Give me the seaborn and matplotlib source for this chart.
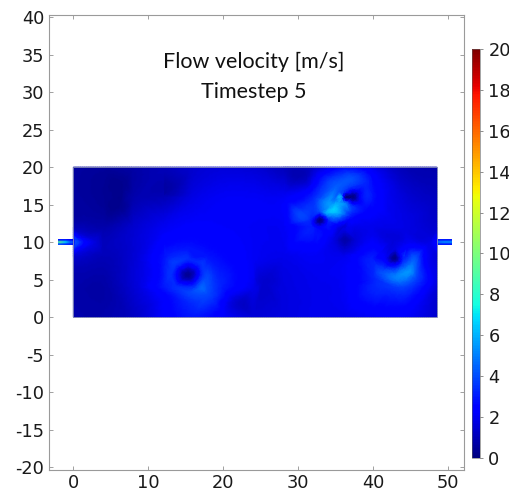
import numpy as np
import matplotlib
matplotlib.use("Agg")
import matplotlib.pyplot as plt
import matplotlib.tri as mtri
import seaborn as sns

# ---------------- data ----------------
# coarse background grid of flow speed [m/s] inside the tank
grid_x = [0, 4, 8, 12, 16, 20, 24, 28, 32, 36, 40, 44, 48.5]
grid_y = [20, 16, 12, 8, 4, 0]
speed_y20 = [0.6, 0.5, 0.7, 1.0, 1.4, 1.6, 1.5, 1.1, 1.3, 2.6, 1.9, 1.0, 0.8]
speed_y16 = [0.6, 0.4, 0.8, 1.0, 1.8, 2.1, 2.1, 2.1, 3.2, 2.4, 2.8, 1.6, 1.1]
speed_y12 = [1.0, 0.8, 1.4, 2.0, 2.3, 2.2, 2.1, 2.1, 3.0, 1.6, 1.9, 1.8, 1.4]
speed_y8 = [1.4, 1.0, 1.5, 2.8, 3.0, 2.6, 2.1, 1.9, 2.1, 2.0, 3.0, 3.2, 1.6]
speed_y4 = [0.8, 0.7, 1.5, 2.9, 3.5, 3.0, 1.9, 1.7, 1.9, 2.1, 3.2, 3.8, 1.6]
speed_y0 = [0.8, 0.8, 1.2, 2.2, 2.9, 2.2, 1.6, 1.7, 1.9, 1.9, 2.1, 2.2, 1.4]

# local features (vortex cores, rings, inlet/outlet jets, dark spots)
feat_x = [15.3, 17.6, 16.9, 15.3, 13.7, 13.0, 13.7, 15.3, 16.9,
          19.1, 18.0, 15.3, 12.6, 11.5, 12.6, 15.3, 18.0,
          32.9, 34.1, 33.7, 32.9, 31.7, 32.9, 32.0, 33.8,
          34.6, 35.3, 34.0, 35.0, 34.2, 35.6, 34.8, 35.4,
          37.2, 38.5, 37.2, 35.9, 37.2, 36.3, 38.1, 36.3, 38.1,
          39.8, 37.2, 35.3, 39.0, 39.0, 37.2,
          36.2, 37.7, 34.7, 36.2, 36.2,
          42.9, 44.2, 43.8, 42.9, 41.6, 42.9, 42.0,
          45.5, 44.7, 42.9, 41.1, 40.3, 44.7, 42.9,
          46.9, 45.7, 42.9, 40.1,
          0.3, 1.5, 1.0, 1.0, 3.0,
          48.5, 47.4,
          6.0, 6.5, 12.4, 25.3, 21.8, 30.5]
feat_y = [5.6, 5.6, 7.2, 7.9, 7.2, 5.6, 4.0, 3.3, 4.0,
          5.6, 8.3, 9.4, 8.3, 5.6, 2.9, 1.8, 2.9,
          13.0, 13.0, 13.9, 14.2, 13.0, 11.8, 12.2, 12.2,
          14.4, 15.2, 15.3, 14.0, 14.6, 14.8, 15.6, 16.7,
          16.0, 16.0, 17.3, 16.0, 14.7, 15.1, 16.9, 16.9, 15.1,
          16.0, 18.6, 17.8, 17.8, 14.2, 13.4,
          10.3, 10.3, 10.3, 11.8, 8.8,
          7.9, 7.9, 6.9, 6.6, 7.9, 9.2, 6.9,
          7.9, 6.1, 5.3, 6.1, 7.9, 9.7, 10.5,
          7.9, 5.1, 3.9, 5.1,
          10.0, 10.0, 11.0, 9.0, 10.0,
          10.0, 10.0,
          14.7, 17.8, 16.4, 4.7, 1.9, 19.0]
feat_speed = [0.4, 3.8, 3.4, 3.4, 3.6, 3.4, 3.4, 3.8, 4.4,
              3.2, 2.8, 2.8, 3.0, 2.6, 2.6, 3.2, 3.8,
              0.2, 3.5, 5.6, 4.2, 3.2, 2.6, 2.8, 2.8,
              6.6, 5.8, 5.4, 6.2, 5.8, 5.6, 4.8, 4.2,
              0.2, 2.8, 3.4, 4.2, 3.6, 5.0, 2.6, 3.6, 2.6,
              3.0, 4.0, 4.2, 3.2, 2.6, 2.8,
              0.8, 1.6, 1.8, 1.8, 1.6,
              0.3, 3.2, 3.8, 3.4, 2.2, 1.8, 2.8,
              4.2, 5.4, 5.0, 4.0, 2.8, 2.2, 1.6,
              2.4, 3.8, 3.6, 3.2,
              4.0, 2.6, 1.6, 2.0, 1.6,
              2.6, 1.8,
              0.3, 0.3, 0.8, 1.4, 1.4, 0.9]

# inlet / outlet pipes: rows top, middle, bottom; columns along the pipe
inlet_speed = [[3.0, 3.0, 2.5],
               [9.0, 7.0, 4.5],
               [4.0, 3.5, 3.0]]
outlet_speed = [[3.0, 3.0, 3.0],
                [5.0, 5.5, 5.5],
                [3.0, 3.0, 3.0]]

title_lines = ["Flow velocity [m/s]", "Timestep 5"]
x_ticks = [0, 10, 20, 30, 40, 50]
y_ticks = [-20, -15, -10, -5, 0, 5, 10, 15, 20, 25, 30, 35, 40]
cbar_ticks = [0, 2, 4, 6, 8, 10, 12, 14, 16, 18, 20]

# ---------------- styling ----------------
sns.set_theme(style="ticks")
plt.rcParams["font.family"] = ["DejaVu Sans"]
plt.rcParams["axes.unicode_minus"] = False

cmap = matplotlib.colormaps["jet"]
vmin, vmax = 0, 20

fig = plt.figure(figsize=(5.10, 4.91), dpi=100)
ax = fig.add_axes([49 / 510, 21 / 491, 415 / 510, 455 / 491])

# tank field
gx, gy = np.meshgrid(np.array(grid_x, float), np.array(grid_y, float))
gs = np.array([speed_y20, speed_y16, speed_y12, speed_y8, speed_y4, speed_y0], float)
px = np.concatenate([gx.ravel(), np.array(feat_x, float)])
py = np.concatenate([gy.ravel(), np.array(feat_y, float)])
ps = np.concatenate([gs.ravel(), np.array(feat_speed, float)])
tri = mtri.Triangulation(px, py)
refiner = mtri.UniformTriRefiner(tri)
interp = mtri.CubicTriInterpolator(tri, ps, kind="geom")
tri_f, s_f = refiner.refine_field(ps, triinterpolator=interp, subdiv=4)
s_f = np.clip(s_f, 0, None)
ax.tripcolor(tri_f, s_f, shading="gouraud", cmap=cmap, vmin=vmin, vmax=vmax,
             rasterized=True)
ax.add_patch(plt.Rectangle((0, 0), 48.5, 20, fill=False, lw=0.6,
                           edgecolor="#8890b8", zorder=3))

# pipes
ax.imshow(np.array(inlet_speed), extent=(-2.0, 0.0, 9.6, 10.4), origin="upper",
          cmap=cmap, vmin=vmin, vmax=vmax, interpolation="bilinear", aspect="auto")
ax.imshow(np.array(outlet_speed), extent=(48.5, 50.5, 9.6, 10.4), origin="upper",
          cmap=cmap, vmin=vmin, vmax=vmax, interpolation="bilinear", aspect="auto")

ax.set_xlim(-3.25, 52.1)
ax.set_ylim(-20.4, 40.3)
ax.set_xticks(x_ticks)
ax.set_yticks(y_ticks)
ax.tick_params(direction="in", length=3, width=0.6, color="#909090",
               labelsize=12.8, labelcolor="#1a1a1a", top=True, right=True,
               pad=3.5)
ax.tick_params(axis="x", pad=3)
for sp in ax.spines.values():
    sp.set_color("#9a9a9a")
    sp.set_linewidth(0.8)

ax.text(24.0, 34.1, title_lines[0], ha="center", va="center", fontsize=15.5,
        family=["Lato", "DejaVu Sans"], color="#111111")
ax.text(24.0, 30.0, title_lines[1], ha="center", va="center", fontsize=15.5,
        family=["Lato", "DejaVu Sans"], color="#111111")

# colorbar
cax = fig.add_axes([472 / 510, 33 / 491, 8 / 510, 409 / 491])
sm = plt.cm.ScalarMappable(cmap=cmap, norm=plt.Normalize(vmin, vmax))
cb = fig.colorbar(sm, cax=cax, ticks=cbar_ticks)
cb.outline.set_linewidth(0.4)
cb.outline.set_edgecolor("#606060")
cax.tick_params(length=2, width=0.5, color="#606060", labelsize=12.8,
                labelcolor="#1a1a1a", pad=4)

fig.savefig("out.png", dpi=100)
